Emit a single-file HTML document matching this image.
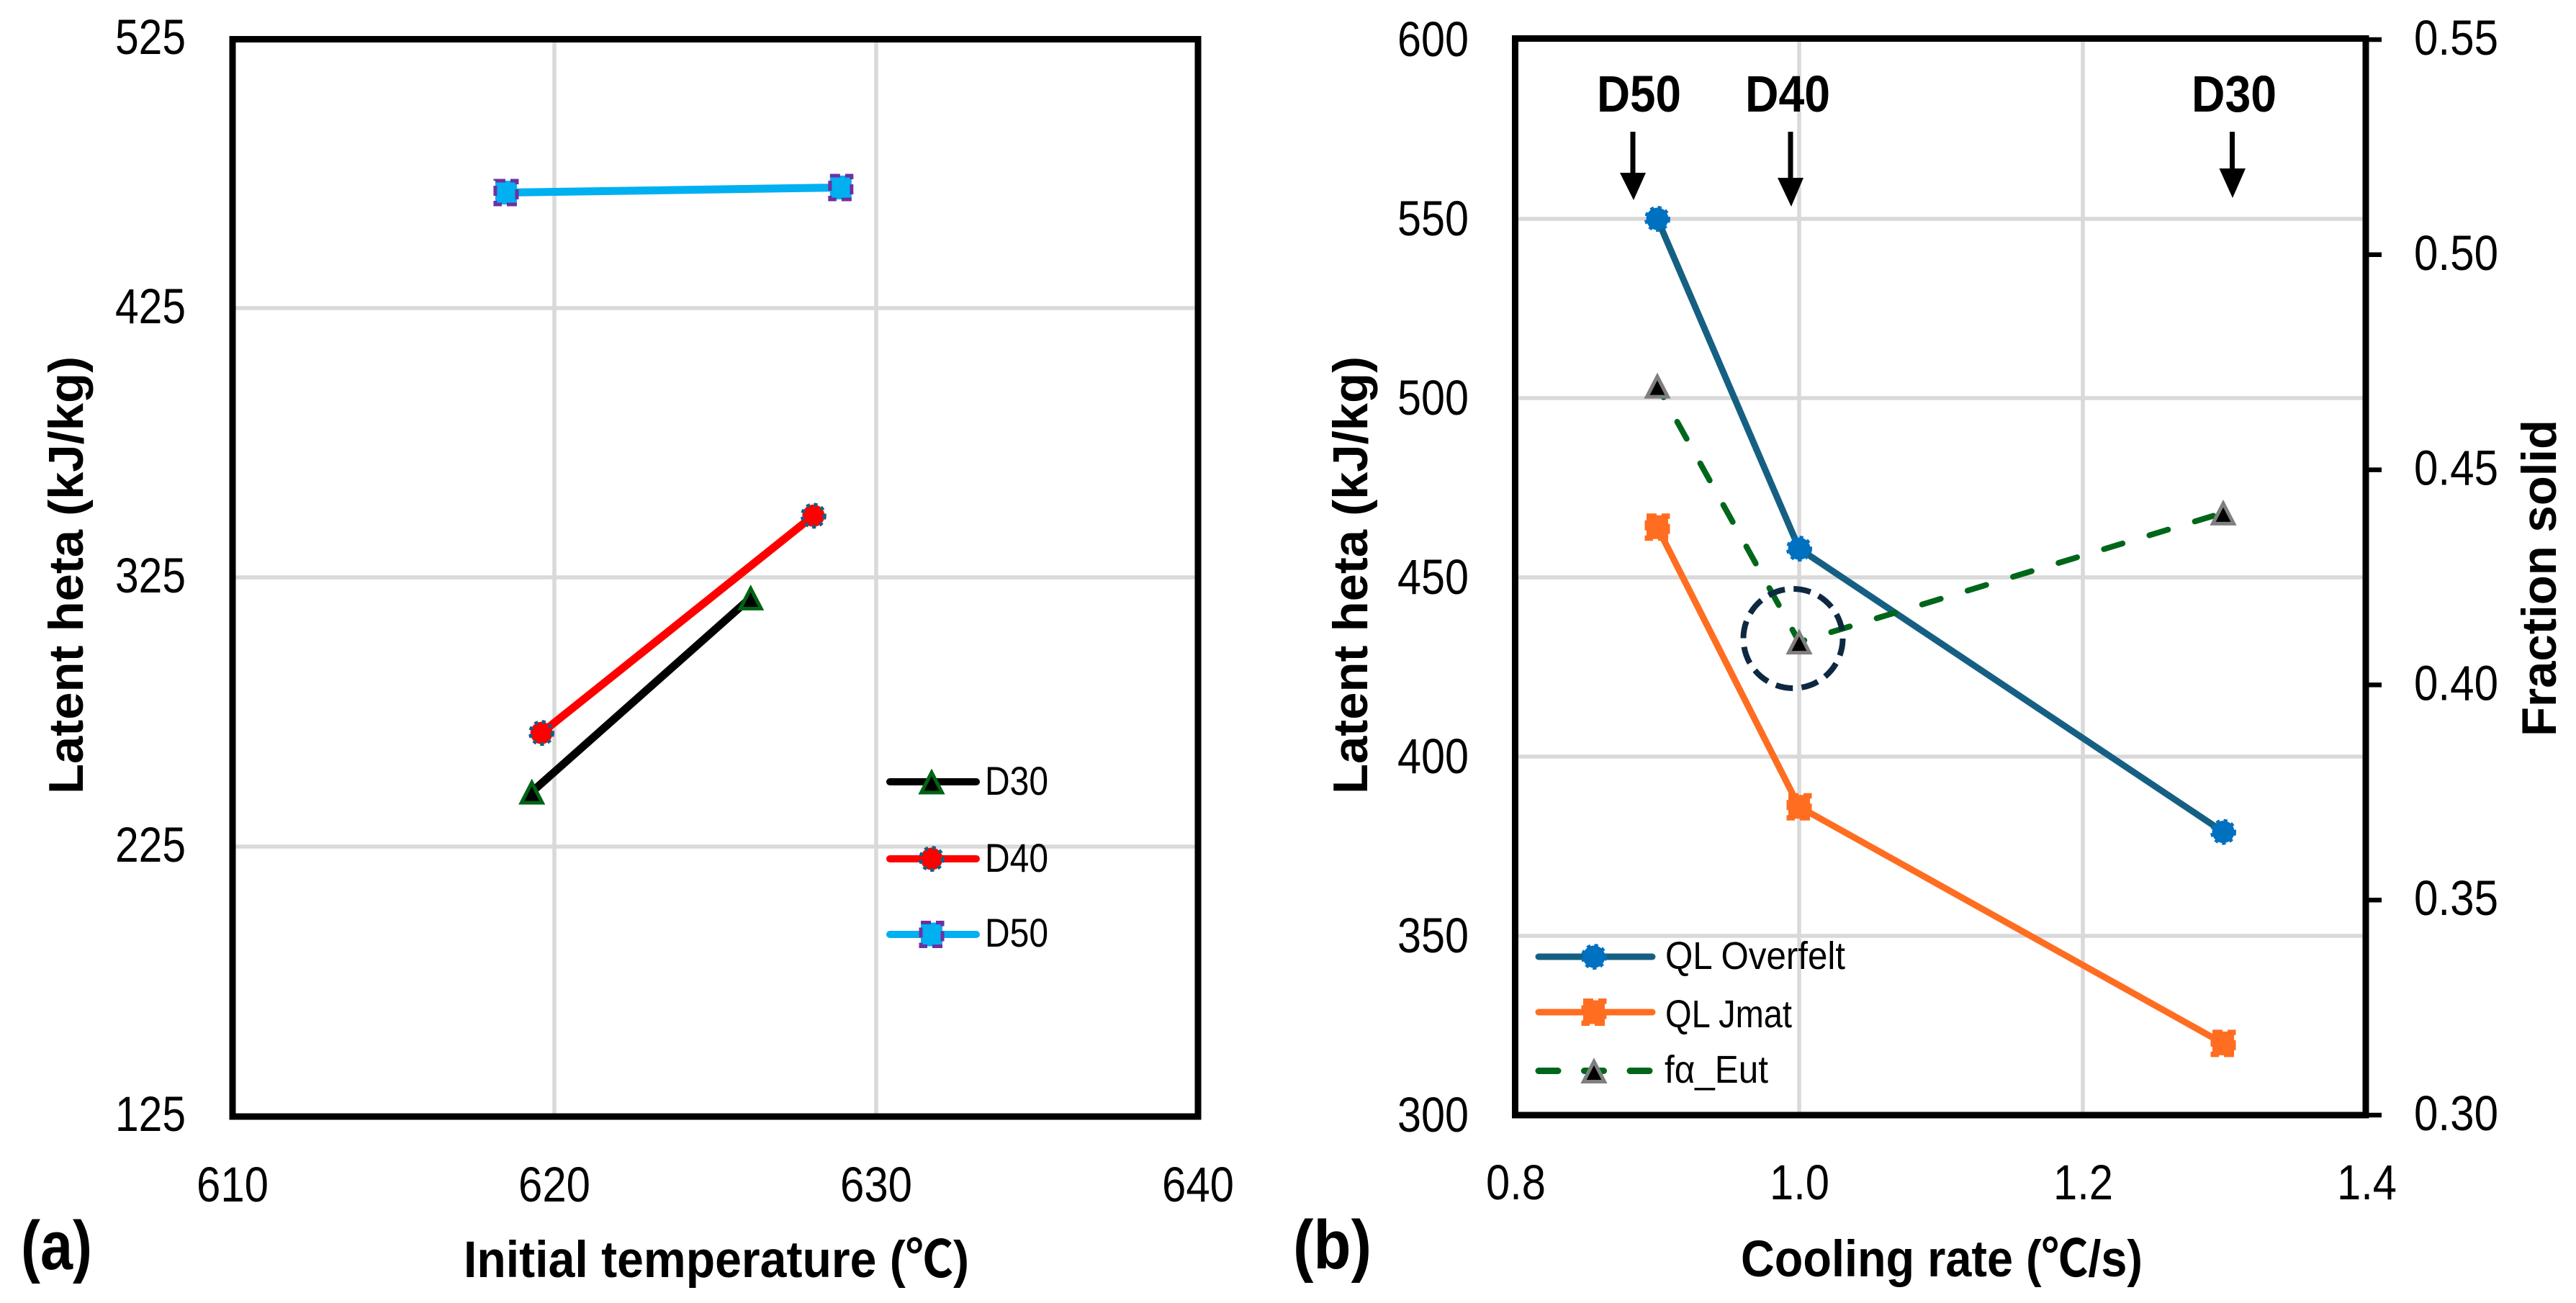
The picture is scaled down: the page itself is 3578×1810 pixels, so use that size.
<!DOCTYPE html>
<html lang="en">
<head>
<meta charset="utf-8">
<title>Latent heat charts</title>
<style>
html,body{margin:0;padding:0;background:#fff;}
svg{display:block;font-family:"Liberation Sans","Noto Sans CJK SC",sans-serif;}
</style>
</head>
<body>
<svg id="fig" xmlns="http://www.w3.org/2000/svg" width="3578" height="1810" viewBox="0 0 3578 1810">
  <rect x="0" y="0" width="3578" height="1810" fill="#fff"/>
  <g id="a-grid"></g>
  <g id="b-grid"></g>
  <g id="a-series"></g>
  <g id="b-series"></g>
  <rect x="323" y="54.5" width="1341" height="1496.5" fill="none" stroke="#000" stroke-width="9"/>
  <rect x="2104.5" y="53.5" width="1181.5" height="1495.5" fill="none" stroke="#000" stroke-width="9"/>
  <g id="a-ticks"></g>
  <g id="b-ticks"></g>

  <text transform="translate(115,1103) rotate(-90)" font-size="68" font-weight="700" textLength="608" lengthAdjust="spacingAndGlyphs">Latent heta (kJ/kg)</text>
  <text x="644" y="1774" font-size="71" font-weight="700" textLength="702" lengthAdjust="spacingAndGlyphs">Initial temperature (℃)</text>
  <text x="29" y="1763" font-size="96" font-weight="700" textLength="99" lengthAdjust="spacingAndGlyphs">(a)</text>

  <text transform="translate(1899,1103) rotate(-90)" font-size="68" font-weight="700" textLength="608" lengthAdjust="spacingAndGlyphs">Latent heta (kJ/kg)</text>
  <text transform="translate(3550,1023) rotate(-90)" font-size="68" font-weight="700" textLength="440" lengthAdjust="spacingAndGlyphs">Fraction solid</text>
  <text x="2418" y="1773" font-size="71" font-weight="700" textLength="558" lengthAdjust="spacingAndGlyphs">Cooling rate (℃/s)</text>
  <text x="1796" y="1762" font-size="96" font-weight="700" textLength="109" lengthAdjust="spacingAndGlyphs">(b)</text>

  <text x="2218" y="155" font-size="71" font-weight="700" textLength="117" lengthAdjust="spacingAndGlyphs">D50</text>
  <text x="2424" y="155" font-size="71" font-weight="700" textLength="118" lengthAdjust="spacingAndGlyphs">D40</text>
  <text x="3044" y="155" font-size="71" font-weight="700" textLength="118" lengthAdjust="spacingAndGlyphs">D30</text>
  <g><rect x="2264.5" y="183" width="7" height="60"/><polygon points="2250,240 2286,240 2269,278"/></g>
  <g><rect x="2483.5" y="183" width="7" height="68"/><polygon points="2469,247 2505,247 2488,287"/></g>
  <g><rect x="3097" y="183" width="7" height="55"/><polygon points="3082.5,234 3119,234 3101,275"/></g>
  <circle cx="2490.5" cy="887" r="69" fill="none" stroke="#0e2841" stroke-width="8" stroke-dasharray="24 12.2"/>

  <g>
    <text x="1368" y="1104" font-size="56" textLength="88" lengthAdjust="spacingAndGlyphs">D30</text>
    <text x="1368" y="1211" font-size="56" textLength="88" lengthAdjust="spacingAndGlyphs">D40</text>
    <text x="1368" y="1315" font-size="56" textLength="88" lengthAdjust="spacingAndGlyphs">D50</text>
    <line x1="1236" y1="1086" x2="1356" y2="1086" stroke="#000" stroke-width="10" stroke-linecap="round"/>
    <line x1="1236" y1="1193" x2="1356" y2="1193" stroke="#f00" stroke-width="10" stroke-linecap="round"/>
    <line x1="1236" y1="1298" x2="1356" y2="1298" stroke="#00b0f0" stroke-width="10" stroke-linecap="round"/>
    <g id="a-legend-markers"></g>
  </g>
  <g>
    <text x="2313" y="1346" font-size="54" textLength="250" lengthAdjust="spacingAndGlyphs">QL Overfelt</text>
    <text x="2313" y="1427" font-size="54" textLength="176" lengthAdjust="spacingAndGlyphs">QL Jmat</text>
    <text x="2312" y="1504" font-size="54" textLength="144" lengthAdjust="spacingAndGlyphs">fα_Eut</text>
    <line x1="2137" y1="1329" x2="2295" y2="1329" stroke="#156082" stroke-width="9" stroke-linecap="round"/>
    <line x1="2137" y1="1406" x2="2295" y2="1406" stroke="#ff6d21" stroke-width="9" stroke-linecap="round"/>
    <line x1="2137" y1="1487.5" x2="2295" y2="1487.5" stroke="#00661a" stroke-width="9" stroke-linecap="round" stroke-dasharray="27 36.5"/>
    <g id="b-legend-markers"></g>
  </g>
</svg>
<script>
// Panel (a) data
var aXTicks = [610, 620, 630, 640];
var aYTicks = [125, 225, 325, 425, 525];
var d30Temp = [619.3, 626.1];
var d30Heat = [245.3, 317.4];
var d40Temp = [619.6, 628.05];
var d40Heat = [267.2, 347.9];
var d50Temp = [618.5, 628.9];
var d50Heat = [467.9, 469.8];
// Panel (b) data
var bXTicks = ['0.8', '1.0', '1.2', '1.4'];
var bYTicks = [300, 350, 400, 450, 500, 550, 600];
var bRTicks = ['0.30', '0.35', '0.40', '0.45', '0.50', '0.55'];
var coolingRate = [0.9, 1.0, 1.299];
var qlOverfelt = [550, 458, 379];
var qlJmat = [464, 386, 320];
var fractionEut = [0.4695, 0.41, 0.44];

var NS = 'http://www.w3.org/2000/svg';
function $(id){ return document.getElementById(id); }
function mk(tag, parent){
  var e = document.createElementNS(NS, tag);
  parent.appendChild(e);
  return e;
}
function set(e, k, v){ e.setAttribute(k, v); }

// axis functions
function ax(v){ return 323 + (v - 610) * 44.7; }
function ay(v){ return 54 + (525 - v) * 3.74; }
function bx(v){ return 2105 + (v - 0.8) * 1970; }
function by(v){ return 55 + (600 - v) * 4.98; }
function br(v){ return 55 + (0.55 - v) * 5976; }

function gridLine(parent, x1, y1, x2, y2){
  var l = mk('line', parent);
  set(l,'x1',x1); set(l,'y1',y1); set(l,'x2',x2); set(l,'y2',y2);
  set(l,'stroke','#d9d9d9'); set(l,'stroke-width',5.5);
  return l;
}
function tickText(parent, x, y, str, len){
  var t = mk('text', parent);
  set(t,'x',x); set(t,'y',y); set(t,'font-size',69);
  set(t,'textLength',len); set(t,'lengthAdjust','spacingAndGlyphs');
  t.textContent = str;
  return t;
}
function seriesLine(parent, xs, ys, fx, fy, color, width){
  var p = mk('polyline', parent);
  var pts = [];
  for (var i = 0; i < xs.length; i++) pts.push(fx(xs[i]) + ',' + fy(ys[i]));
  set(p,'points',pts.join(' ')); set(p,'fill','none'); set(p,'stroke',color);
  set(p,'stroke-width',width); set(p,'stroke-linecap','round'); set(p,'stroke-linejoin','round');
  return p;
}
function triangle(parent, cx, cy, fill, edge){
  var p = mk('polygon', parent);
  set(p,'points',(cx)+','+(cy-13)+' '+(cx+14.5)+','+(cy+15)+' '+(cx-14.5)+','+(cy+15));
  set(p,'fill',fill); set(p,'stroke',edge); set(p,'stroke-width',5); set(p,'stroke-linejoin','miter');
  return p;
}
function dotCircle(parent, cx, cy, fill, edge){
  var c = mk('circle', parent);
  set(c,'cx',cx); set(c,'cy',cy); set(c,'r',15.5);
  set(c,'fill',fill); set(c,'stroke',edge); set(c,'stroke-width',5); set(c,'stroke-dasharray','5 5.5');
  return c;
}
function dashSquare(parent, cx, cy, fill, edge){
  var r = mk('rect', parent);
  set(r,'x',cx-15); set(r,'y',cy-16.5); set(r,'width',30); set(r,'height',33);
  set(r,'fill',fill); set(r,'stroke',edge); set(r,'stroke-width',5); set(r,'stroke-dasharray','14 7');
  return r;
}

var i, el;
// Panel a grid + tick labels
for (i = 0; i < aXTicks.length; i++){
  if (i > 0 && i < aXTicks.length - 1){
    el = gridLine($('a-grid'), ax(aXTicks[i]), 54, ax(aXTicks[i]), 1550);
    
    
  }
  el = tickText($('a-ticks'), ax(aXTicks[i]) - 50, 1669, String(aXTicks[i]), 100);
  
  
}
for (i = 0; i < aYTicks.length; i++){
  if (i > 0 && i < aYTicks.length - 1){
    el = gridLine($('a-grid'), 323, ay(aYTicks[i]), 1664, ay(aYTicks[i]));
    
    
  }
  el = tickText($('a-ticks'), 160, ay(aYTicks[i]) + 21, String(aYTicks[i]), 98);
  
  
}
// Panel b grid + tick labels
for (i = 0; i < bXTicks.length; i++){
  var xv = parseFloat(bXTicks[i]);
  if (i > 0 && i < bXTicks.length - 1){
    el = gridLine($('b-grid'), bx(xv), 55, bx(xv), 1549);
    
    
  }
  el = tickText($('b-ticks'), bx(xv) - 41, 1666, bXTicks[i], 83);
  
  
}
for (i = 0; i < bYTicks.length; i++){
  if (i > 0 && i < bYTicks.length - 1){
    el = gridLine($('b-grid'), 2105, by(bYTicks[i]), 3286, by(bYTicks[i]));
    
    
  }
  el = tickText($('b-ticks'), 1941, by(bYTicks[i]) + 23, String(bYTicks[i]), 99);
  
  
}
for (i = 0; i < bRTicks.length; i++){
  var rv = parseFloat(bRTicks[i]);
  el = mk('line', $('b-ticks'));
  set(el,'x1',3286); set(el,'x2',3308); set(el,'y1',br(rv)); set(el,'y2',br(rv));
  set(el,'stroke','#000'); set(el,'stroke-width',6.5);
  
  
  el = tickText($('b-ticks'), 3353, br(rv) + 21, bRTicks[i], 117);
  
  
}

// Panel a series
el = seriesLine($('a-series'), d30Temp, d30Heat, ax, ay, '#000', 11);


el = seriesLine($('a-series'), d40Temp, d40Heat, ax, ay, '#f00', 11);


el = seriesLine($('a-series'), d50Temp, d50Heat, ax, ay, '#00b0f0', 11);


for (i = 0; i < d30Temp.length; i++){
  el = triangle($('a-series'), ax(d30Temp[i]), ay(d30Heat[i]), '#000', '#006414');
  
  
}
for (i = 0; i < d40Temp.length; i++){
  el = dotCircle($('a-series'), ax(d40Temp[i]), ay(d40Heat[i]), '#f00', '#156082');
  
  
}
for (i = 0; i < d50Temp.length; i++){
  el = dashSquare($('a-series'), ax(d50Temp[i]), ay(d50Heat[i]), '#00b0f0', '#7030a0');
  
  
}

// Panel b series
el = seriesLine($('b-series'), coolingRate, qlJmat, bx, by, '#ff6d21', 9);


el = seriesLine($('b-series'), coolingRate, qlOverfelt, bx, by, '#156082', 9);


el = seriesLine($('b-series'), coolingRate, fractionEut, bx, br, '#00661a', 8);
set(el,'stroke-dasharray','27 39'); set(el,'stroke-dashoffset','9');


for (i = 0; i < coolingRate.length; i++){
  el = dotCircle($('b-series'), bx(coolingRate[i]), by(qlOverfelt[i]), '#0070c0', '#0070c0');
  
  
  el = dashSquare($('b-series'), bx(coolingRate[i]), by(qlJmat[i]), '#ff6d21', '#ff6d21');
  
  
  el = triangle($('b-series'), bx(coolingRate[i]), br(fractionEut[i]), '#000', '#7f7f7f');
  
  
}

// Legend markers
el = triangle($('a-legend-markers'), 1294, 1086, '#000', '#006414');


el = dotCircle($('a-legend-markers'), 1294, 1193, '#f00', '#156082');


el = dashSquare($('a-legend-markers'), 1294, 1298, '#00b0f0', '#7030a0');


el = dotCircle($('b-legend-markers'), 2214, 1329, '#0070c0', '#0070c0');


el = dashSquare($('b-legend-markers'), 2214, 1406, '#ff6d21', '#ff6d21');


el = triangle($('b-legend-markers'), 2214, 1487.5, '#000', '#7f7f7f');


</script>
</body>
</html>
